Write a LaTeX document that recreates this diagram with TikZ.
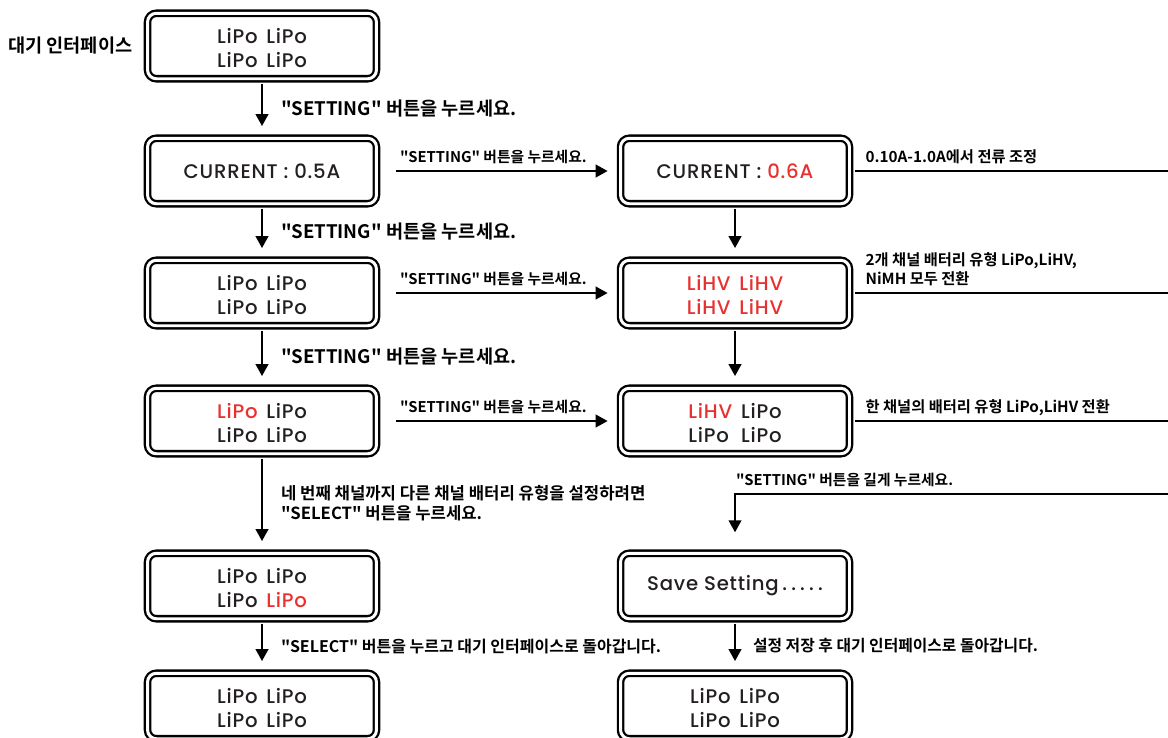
\documentclass[tikz,border=0pt]{standalone}
\usepackage{fontspec}
\usepackage{xcolor}
\usepackage{tikz}
\usetikzlibrary{arrows.meta,positioning}
\setmainfont{Poppins}[UprightFont=* Medium,LetterSpace=4]
\newfontfamily\krfont{Noto Sans CJK KR Bold}[RawFeature=+palt]
\definecolor{lcdred}{HTML}{E8302E}
\definecolor{lcdink}{HTML}{231F20}
\newcommand{\redtxt}[1]{\textcolor{lcdred}{#1}}
\newcommand{\slots}[4]{\raisebox{-2.6pt}[\height][\depth]{\begin{tabular}{@{}l@{\hspace{5pt}}l@{}}#1&#2\\#3&#4\end{tabular}}}
\tikzset{screenbox/.style={draw,line width=1.3pt,double=white,double distance=1.7pt,rounded corners=5pt,minimum width=4.58cm,minimum height=1.31cm,inner sep=0pt,align=center,text=lcdink,font=\fontsize{11.2}{13.6}\selectfont}}
\tikzset{steptext/.style={font=\krfont\fontsize{10.6}{12}\selectfont,inner sep=0pt}}
\tikzset{hintext/.style={font=\krfont\fontsize{8.4}{10.8}\selectfont,inner sep=0pt,align=left}}
\tikzset{notetext/.style={font=\krfont\fontsize{8.7}{10.8}\selectfont,inner sep=0pt,align=left}}

\begin{document}
\begin{tikzpicture}[x=0.02cm,y=-0.02cm,>={Triangle[length=6.8pt,width=7.2pt]},line width=1.15pt]
    \useasboundingbox (0,0) rectangle (1168,737);
    \clip (0,0) rectangle (1168,737);

    % left column
    \node[screenbox] (idle) at (262,46) {\slots{LiPo}{LiPo}{LiPo}{LiPo}};
    \node[screenbox] (curL) at (262,171) {CURRENT : 0.5A};
    \node[screenbox] (typeL) at (262,293) {\slots{LiPo}{LiPo}{LiPo}{LiPo}};
    \node[screenbox] (chanL) at (262,421) {\slots{\redtxt{LiPo}}{LiPo}{LiPo}{LiPo}};
    \node[screenbox] (chanF) at (262,586) {\slots{LiPo}{LiPo}{LiPo}{\redtxt{LiPo}}};
    \node[screenbox] (backL) at (262,706) {\slots{LiPo}{LiPo}{LiPo}{LiPo}};
    \node[steptext,left=0.26cm of idle] (idlename) {대기 인터페이스};

    % right column
    \node[screenbox] (curR) at (735,171) {CURRENT : \redtxt{0.6A}};
    \node[screenbox] (typeR) at (735,293) {\color{lcdred}\slots{LiHV}{LiHV}{LiHV}{LiHV}};
    \node[screenbox] (chanR) at (735,421) {\slots{\redtxt{LiHV}}{LiPo}{LiPo}{LiPo}};
    \node[screenbox] (save) at (735,586) {Save Setting\hspace{2pt}.\hspace{2.4pt}.\hspace{2.4pt}.\hspace{2.4pt}.\hspace{2.4pt}.};
    \node[screenbox] (backR) at (735,706) {\slots{LiPo}{LiPo}{LiPo}{LiPo}};

    \foreach \from/\to in {idle/curL,curL/typeL,typeL/chanL} {
      \draw[->,shorten <=2.2pt,shorten >=6.3pt] (\from) -- node[steptext,midway,anchor=west,xshift=0.36cm] {"SETTING" 버튼을 누르세요.} (\to);
    }
    \draw[->,shorten <=2.2pt,shorten >=6.3pt] (chanL) -- node[hintext,midway,anchor=west,xshift=0.36cm,font=\krfont\fontsize{9.5}{11.4}\selectfont] {네 번째 채널까지 다른 채널 배터리 유형을 설정하려면\\"SELECT" 버튼을 누르세요.} (chanF);
    \draw[->,shorten <=2.2pt,shorten >=6.3pt] (chanF) -- node[hintext,midway,anchor=west,xshift=0.36cm,font=\krfont\fontsize{9.1}{11}\selectfont] {"SELECT" 버튼을 누르고 대기 인터페이스로 돌아갑니다.} (backL);

    \foreach \from/\to in {curR/typeR,typeR/chanR} {
      \draw[->,shorten <=2.2pt,shorten >=6.3pt] (\from) -- (\to);
    }
    \draw[->,shorten <=2.2pt,shorten >=6.3pt] (save) -- node[hintext,midway,anchor=west,xshift=0.34cm,font=\krfont\fontsize{9}{11}\selectfont] {설정 저장 후 대기 인터페이스로 돌아갑니다.} (backR);

    \foreach \row in {cur,type,chan} {
      \draw[->,shorten <=10.7pt,shorten >=6.7pt] (\row L) -- node[hintext,pos=0,anchor=base west,xshift=0.43cm,yshift=0.18cm] {"SETTING" 버튼을 누르세요.} (\row R);
    }

    % lines to the right edge
    \coordinate (edgeA) at (1168,171);
    \coordinate (edgeB) at (1168,293);
    \coordinate (edgeC) at (1168,421);
    \coordinate (edgeD) at (1168,494);
    \draw[shorten <=2.2pt] (curR) -- node[notetext,pos=0,anchor=base west,xshift=0.28cm,yshift=0.18cm] {0.10A-1.0A에서 전류 조정} (edgeA);
    \draw[shorten <=2.2pt] (typeR) -- node[notetext,pos=0,anchor=base west,xshift=0.28cm,yshift=0.18cm] {2개 채널 배터리 유형 LiPo,LiHV,\\NiMH 모두 전환} (edgeB);
    \draw[shorten <=2.2pt] (chanR) -- node[notetext,pos=0,anchor=base west,xshift=0.28cm,yshift=0.18cm] {한 채널의 배터리 유형 LiPo,LiHV 전환} (edgeC);
    \draw[->,shorten >=11.3pt] (edgeD) -| node[hintext,pos=0.5,anchor=base west,yshift=0.18cm] {"SETTING" 버튼을 길게 누르세요.} (save);
\end{tikzpicture}
\end{document}
